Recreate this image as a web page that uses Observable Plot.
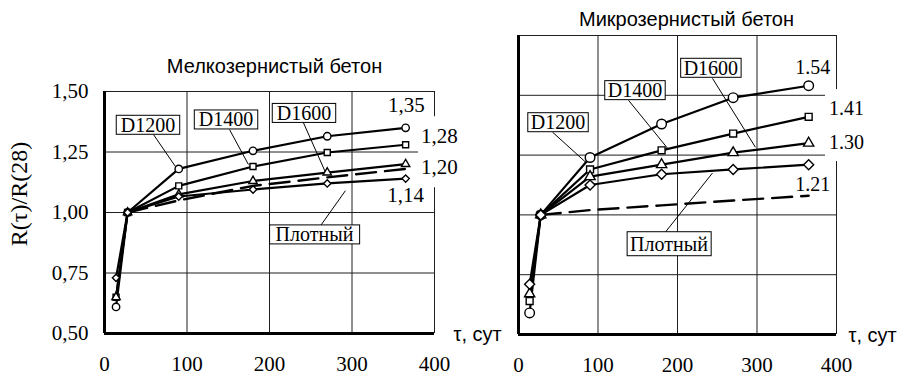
<!DOCTYPE html>
<html>
<head>
<meta charset="utf-8">
<script src="https://cdn.jsdelivr.net/npm/d3@7"></script>
<script src="https://cdn.jsdelivr.net/npm/@observablehq/plot@0.6"></script>
<style>
  html, body { margin: 0; padding: 0; background: #fff; }
  #wrap { position: relative; width: 903px; height: 372px; overflow: hidden; background: #fff; }
  #fine, #micro { position: absolute; top: 0; }
  #fine { left: 0; }
  #micro { left: 450px; }
</style>
</head>
<body>
<div id="wrap"><div id="fine"></div><div id="micro"></div></div>
<script>
// Age of concrete, days
const days = [14, 28, 90, 180, 270, 365];
const refDays = [28, 90, 180, 270, 365];

// Axis ticks
const xTicks = [0, 100, 200, 300, 400];
const xTickLabels = ["0", "100", "200", "300", "400"];
const fineYTicks = [0.5, 0.75, 1.0, 1.25, 1.5];
const fineYTickLabels = ["0,50", "0,75", "1,00", "1,25", "1,50"];
const microYTicks = [0.5, 0.75, 1.0, 1.25, 1.5, 1.75];

// Series names
const seriesNames = ["D1200", "D1400", "D1600", "Плотный"];

// Fine-grained concrete: R(τ)/R(28)
const fineD1200 = [0.61, 1.0, 1.18, 1.255, 1.315, 1.35];
const fineD1400 = [0.65, 1.0, 1.11, 1.19, 1.248, 1.28];
const fineD1600 = [0.65, 1.0, 1.075, 1.13, 1.165, 1.20];
const fineDense = [0.73, 1.0, 1.066, 1.095, 1.12, 1.14];
const fineRef = [1.0, 1.05, 1.11, 1.145, 1.18];

// Micro-grained concrete: R(τ)/R(28)
const microD1200 = [0.59, 1.0, 1.24, 1.38, 1.49, 1.54];
const microD1400 = [0.64, 1.0, 1.19, 1.27, 1.34, 1.41];
const microD1600 = [0.67, 1.0, 1.16, 1.21, 1.26, 1.30];
const microDense = [0.71, 1.0, 1.125, 1.17, 1.19, 1.21];
const microRef = [1.0, 1.02, 1.04, 1.06, 1.08];

// Callout tags (data units): tag centre, leader start, leader end
const fineTagT = [52.7, 147.3, 241.8, 254.5];
const fineTagV = [1.360, 1.382, 1.409, 0.907];
const fineLeadFromT = [59.4, 151.5, 241, 262];
const fineLeadFromV = [1.322, 1.343, 1.372, 0.946];
const fineLeadToT = [86, 174.5, 268, 292];
const fineLeadToV = [1.19, 1.198, 1.165, 1.09];

const microTagT = [49.7, 146.5, 242, 189.3];
const microTagV = [1.385, 1.519, 1.6125, 0.877];
const microLeadFromT = [42.8, 138.4, 244, 185];
const microLeadFromV = [1.346, 1.479, 1.571, 0.929];
const microLeadToT = [84.3, 187.4, 298, 244];
const microLeadToV = [1.221, 1.279, 1.283, 1.175];

// End-value labels (data units), one per series
const fineEndT = [366, 406, 406, 365];
const fineEndV = [1.442, 1.314, 1.186, 1.072];
const microEndT = [370, 412.6, 412.6, 370];
const microEndV = [1.617, 1.444, 1.302, 1.125];

const titles = ["Мелкозернистый бетон", "Микрозернистый бетон"];
const yLabel = "R(τ)/R(28)";
const xLabel = "τ, сут";

const SERIF = "Liberation Serif";
const SANS = "Liberation Sans";
const SVGNS = "http://www.w3.org/2000/svg";

function drawChart(cfg) {
  const rows = cfg.series.flatMap((s, k) =>
    days.map((t, i) => ({series: seriesNames[k], t, v: s.values[i]})));
  const refRows = refDays.map((t, i) => ({t, v: cfg.ref[i]}));
  const tags = seriesNames.map((label, i) => ({
    label, t: cfg.tagT[i], v: cfg.tagV[i],
    t0: cfg.leadFromT[i], v0: cfg.leadFromV[i], t1: cfg.leadToT[i], v1: cfg.leadToV[i]
  }));
  const ends = cfg.series.map((s, i) => ({
    t: cfg.endT[i], v: cfg.endV[i], text: cfg.fmt(s.values[s.values.length - 1])
  }));
  const yMin = cfg.yTicks[0];
  const yMax = cfg.yTicks[cfg.yTicks.length - 1];

  const marks = [
    // grid and frame
    Plot.ruleY(cfg.yTicks.slice(1), {stroke: "#1e1e1e", strokeWidth: 1}),
    Plot.ruleX(xTicks.slice(1), {stroke: "#1e1e1e", strokeWidth: 1}),
    Plot.ruleX([xTicks[0]], {stroke: "black", strokeWidth: 3, y1: yMin, y2: yMax}),
    Plot.ruleY([yMin], {stroke: "black", strokeWidth: 3}),
    // end labels outside the frame sit on a white patch
    Plot.text(ends.filter(d => d.t > 400), {
      x: "t", y: "v", text: "text", fontFamily: SERIF, fontSize: cfg.endFont, fill: "black"
    }),
    // reference curve
    Plot.line(refRows, {x: "t", y: "v", stroke: "black", strokeWidth: 2.4, strokeDasharray: "20,9"}),
    // series
    Plot.line(rows, {x: "t", y: "v", z: "series", stroke: "black", strokeWidth: 2.2}),
    // leaders
    Plot.link(tags, {x1: "t0", y1: "v0", x2: "t1", y2: "v1", stroke: "black", strokeWidth: 1}),
    Plot.text(ends.filter(d => d.t <= 400), {
      x: "t", y: "v", text: "text", fontFamily: SERIF, fontSize: cfg.endFont, fill: "black"
    }),
    ...cfg.series.map((s, k) => Plot.dot(rows.filter(d => d.series === seriesNames[k]), {
      x: "t", y: "v", symbol: s.symbol, r: s.r, fill: "white", stroke: "black", strokeWidth: 1.4
    })),
    Plot.text(tags, {
      x: "t", y: "v", text: "label", fontFamily: SERIF, fontSize: cfg.tagFont, fill: "black"
    }),
    // title and axis name
    Plot.text([cfg.title], {
      frameAnchor: "top", lineAnchor: "middle", dx: cfg.titleDx, dy: cfg.titleDy,
      fontFamily: SANS, fontSize: 20, fill: "black"
    }),
    Plot.text([xLabel], {
      frameAnchor: "bottom-right", lineAnchor: "middle", textAnchor: "start",
      dx: cfg.xLabelDx, dy: 1, fontFamily: SANS, fontSize: 20, fill: "black"
    }),
    Plot.axisX(xTicks, {
      tickSize: 0, tickPadding: 23, fontSize: 21, fontFamily: SERIF, label: null,
      tickFormat: d => xTickLabels[xTicks.indexOf(d)]
    })
  ];
  if (cfg.yTickLabels) {
    marks.push(Plot.axisY(cfg.yTicks, {
      tickSize: 0, tickPadding: 16, fontSize: 21, fontFamily: SERIF, label: null,
      tickFormat: d => cfg.yTickLabels[cfg.yTicks.indexOf(d)]
    }));
    marks.push(Plot.text([yLabel], {
      frameAnchor: "left", textAnchor: "middle", lineAnchor: "middle",
      dx: -85, dy: -18.5, rotate: -90, fontFamily: SERIF, fontSize: 24, fill: "black"
    }));
  }

  return Plot.plot({
    width: cfg.width, height: 372,
    marginLeft: cfg.margins[0], marginRight: cfg.margins[1],
    marginTop: cfg.margins[2], marginBottom: cfg.margins[3],
    x: {domain: [0, 400]},
    y: {domain: [yMin, yMax], axis: cfg.yTickLabels ? undefined : null},
    style: {background: "transparent", overflow: "visible", color: "black"},
    marks
  });
}

// White rectangle behind chosen texts (optionally outlined)
function boxTexts(svg, contents, padX, padY, outline) {
  svg.querySelectorAll("text").forEach(t => {
    if (!contents.includes(t.textContent)) return;
    const b = t.getBBox();
    const r = document.createElementNS(SVGNS, "rect");
    r.setAttribute("x", b.x - padX);
    r.setAttribute("y", b.y - padY);
    r.setAttribute("width", b.width + 2 * padX);
    r.setAttribute("height", b.height + 2 * padY);
    r.setAttribute("fill", "white");
    r.setAttribute("stroke", outline ? "black" : "none");
    r.setAttribute("stroke-width", outline ? 1 : 0);
    const tr = t.getAttribute("transform");
    if (tr) r.setAttribute("transform", tr);
    const g = t.parentNode;
    g.insertBefore(r, g.firstChild);
  });
}

const fine = drawChart({
  width: 450, margins: [104, 16, 91, 39],
  yTicks: fineYTicks, yTickLabels: fineYTickLabels,
  series: [
    {values: fineD1200, symbol: "circle", r: 3.7},
    {values: fineD1400, symbol: "square", r: 3.4},
    {values: fineD1600, symbol: "triangle", r: 3.1},
    {values: fineDense, symbol: "diamond2", r: 3.3}
  ],
  ref: fineRef,
  tagT: fineTagT, tagV: fineTagV,
  leadFromT: fineLeadFromT, leadFromV: fineLeadFromV, leadToT: fineLeadToT, leadToV: fineLeadToV,
  endT: fineEndT, endV: fineEndV, endFont: 21,
  fmt: v => v.toFixed(2).replace(".", ","),
  tagFont: 20,
  title: titles[0], titleDx: 5, titleDy: -25, xLabelDx: 19
});
document.getElementById("fine").appendChild(fine);

const micro = drawChart({
  width: 453, margins: [68, 67, 35, 38],
  yTicks: microYTicks, yTickLabels: null,
  series: [
    {values: microD1200, symbol: "circle", r: 4.8},
    {values: microD1400, symbol: "square", r: 3.9},
    {values: microD1600, symbol: "triangle", r: 3.8},
    {values: microDense, symbol: "diamond2", r: 4.5}
  ],
  ref: microRef,
  tagT: microTagT, tagV: microTagV,
  leadFromT: microLeadFromT, leadFromV: microLeadFromV, leadToT: microLeadToT, leadToV: microLeadToV,
  endT: microEndT, endV: microEndV, endFont: 20,
  fmt: v => v.toFixed(2),
  tagFont: 20,
  title: titles[1], titleDx: 9, titleDy: -16, xLabelDx: 12
});
document.getElementById("micro").appendChild(micro);

const grades = seriesNames.slice(0, 3);
boxTexts(fine, ["1,28", "1,20"], 3, 8, false);
boxTexts(micro, ["1.41", "1.30"], 4, 8, false);
boxTexts(fine, grades, 4.5, -1.5, true);
boxTexts(fine, [seriesNames[3]], 6, -1.5, true);
boxTexts(micro, grades, 3, -1.5, true);
boxTexts(micro, [seriesNames[3]], 3, 1, true);
</script>
</body>
</html>
